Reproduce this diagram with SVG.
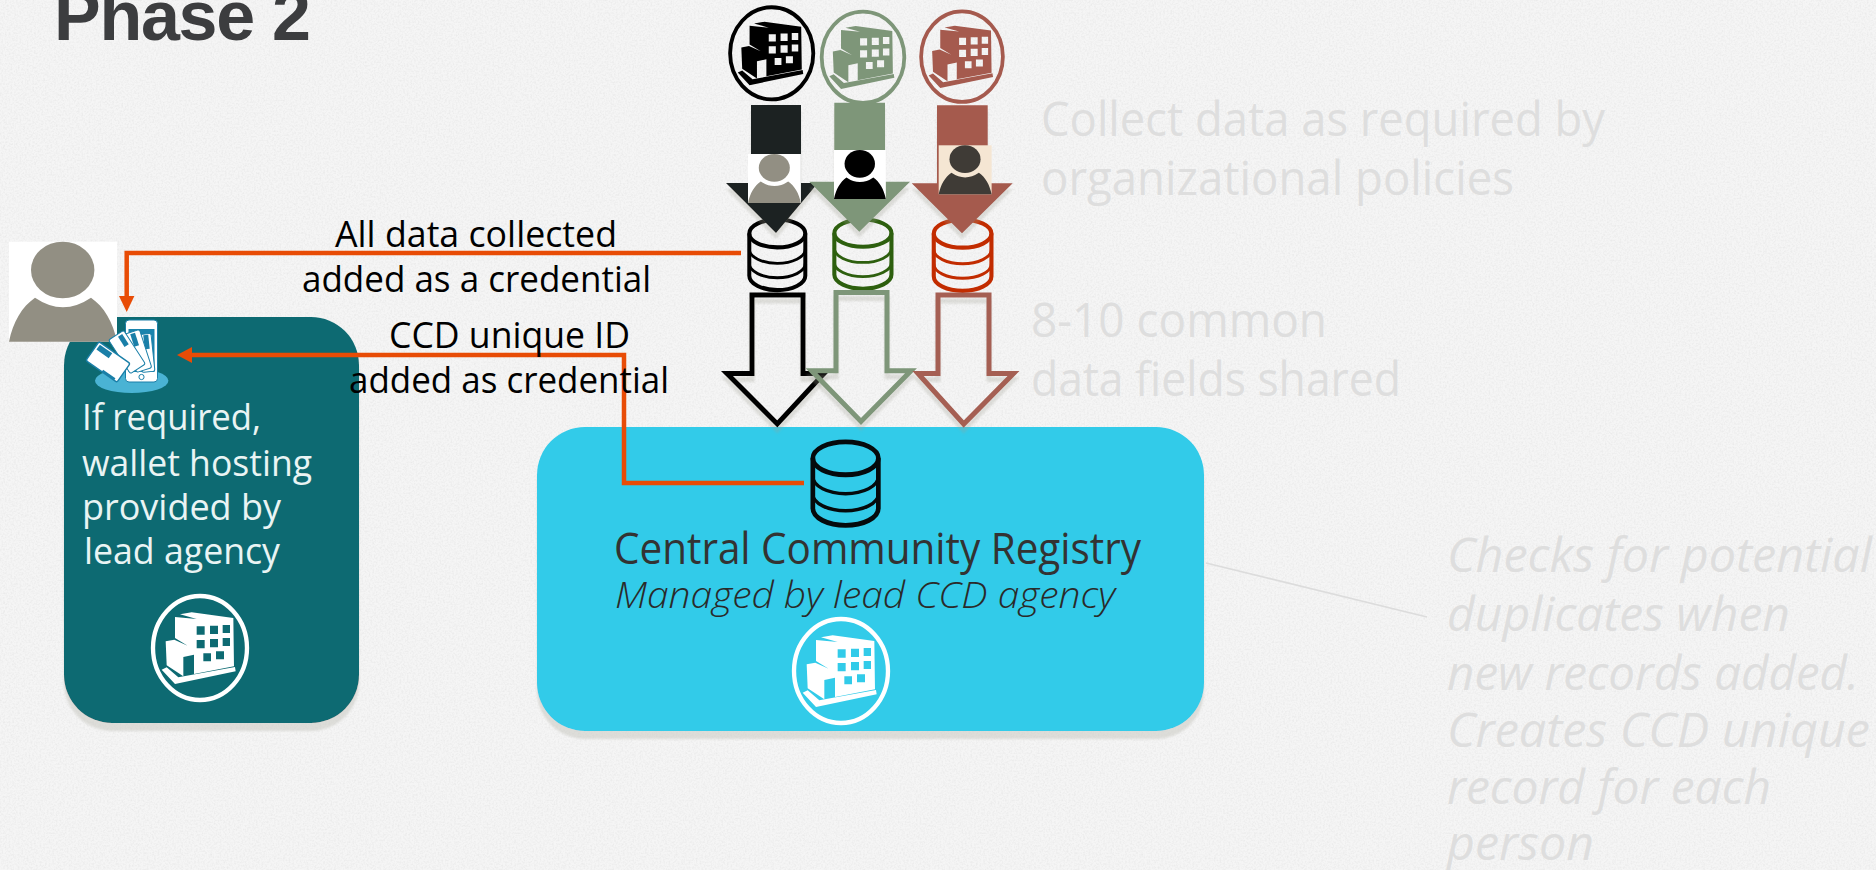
<svg xmlns="http://www.w3.org/2000/svg" xmlns:xlink="http://www.w3.org/1999/xlink" width="1876" height="870" viewBox="0 0 1876 870">
<style>
text{font-family:"Open Sans","Noto Sans","Liberation Sans",sans-serif;font-weight:400}
.title{font-family:"Liberation Sans",Arial,sans-serif;font-weight:700;font-size:70px;fill:#3c3d3f}
.faint{font-size:48px;fill:#dedede}
.faint-i{font-size:47px;fill:#dedede;font-style:italic}
.label{font-size:36px;fill:#000}
.wallet{font-size:37px;fill:#e9f4f4}
.reg{font-size:43px;fill:#333}
.reg-i{font-size:37px;fill:#2a2a2a;font-style:italic;font-weight:300}
.wire{fill:none;stroke:#e84c06;stroke-width:4.5}
.head{fill:#e84c06}
.hollow{fill:none;stroke-width:5;stroke-linejoin:miter;stroke-miterlimit:10}
</style>
<defs>
<filter id="noise" x="0" y="0" width="100%" height="100%">
<feTurbulence type="fractalNoise" baseFrequency="0.55" numOctaves="2" seed="4"/>
<feColorMatrix type="matrix" values="0 0 0 0 0.8 0 0 0 0 0.8 0 0 0 0 0.8 1.6 0 0 0 -0.62"/>
</filter>
<filter id="boxShadow" x="-5%" y="-5%" width="110%" height="115%">
<feDropShadow dx="0" dy="8" stdDeviation="1.2" flood-color="#c9c9c3" flood-opacity=".55"/>
</filter>
<filter id="arrowShadow" x="-15%" y="-10%" width="130%" height="125%">
<feDropShadow dx="0" dy="6" stdDeviation="1.2" flood-color="#9d9d92" flood-opacity=".28"/>
</filter>
<g id="building">
<ellipse cx="0" cy="0" rx="141" ry="156" fill="none" stroke="currentColor" stroke-width="13"/>
<path fill="currentColor" fill-rule="evenodd" d="M-75,-93L-10,-87L-60,-101L-25,-107L100,-90L102,55L-18,78L-18,20L-50,27L-50,85L-100,52L-103,-20L-77,-25L-37,-7L-75,-30ZM-10,-65h24v25h-24zM30,-67h24v25h-24zM68,-69h22v24h-22zM-10,-24h24v25h-24zM30,-27h24v25h-24zM68,-30h22v24h-22zM10,16h23v24h-23zM48,10h24v24h-24z"/>
<path fill="currentColor" d="M-115,65L-100,58L-65,88L105,57L107,70L-75,108Z"/>
</g>
<g id="person">
<rect x="0" y="0" width="108" height="100"/>
<ellipse cx="53.7" cy="28.3" rx="31.7" ry="28.3" fill="currentColor"/>
<path fill="currentColor" d="M0,100C4,80 13,65 26,56Q54,75 82,56C95,65 104,80 108,100Z"/>
</g>
<g id="db" fill="none" stroke="currentColor">
<ellipse cx="30" cy="15" rx="28" ry="13.5" stroke-width="4"/>
<path stroke-width="4" d="M2,15V56C2,64 15,70 30,70S58,64 58,56V15"/>
<path stroke-width="2.8" d="M2,30C2,38 15,44 30,44S58,38 58,30M2,44C2,52 15,58 30,58S58,52 58,44"/>
</g>
</defs>

<rect id="paper" width="1876" height="870" fill="#f5f5f5"/>
<rect width="1876" height="870" filter="url(#noise)"/>

<g id="title"><text class="title" x="54" y="40" textLength="257">Phase 2</text></g>

<g id="note-collect">
<text class="faint" x="1041" y="136" textLength="564" lengthAdjust="spacingAndGlyphs">Collect data as required by</text>
<text class="faint" x="1041" y="195" textLength="473" lengthAdjust="spacingAndGlyphs">organizational policies</text>
</g>
<g id="note-shared">
<text class="faint" x="1031" y="337" textLength="296" lengthAdjust="spacingAndGlyphs">8-10 common</text>
<text class="faint" x="1031" y="396" textLength="370" lengthAdjust="spacingAndGlyphs">data fields shared</text>
</g>
<g id="note-checks">
<text class="faint-i" x="1447" y="572" textLength="425" lengthAdjust="spacingAndGlyphs">Checks for potential</text>
<text class="faint-i" x="1447" y="631" textLength="343" lengthAdjust="spacingAndGlyphs">duplicates when</text>
<text class="faint-i" x="1447" y="690" textLength="412" lengthAdjust="spacingAndGlyphs">new records added.</text>
<text class="faint-i" x="1447" y="747" textLength="423" lengthAdjust="spacingAndGlyphs">Creates CCD unique</text>
<text class="faint-i" x="1447" y="804" textLength="324" lengthAdjust="spacingAndGlyphs">record for each</text>
<text class="faint-i" x="1447" y="860" textLength="147" lengthAdjust="spacingAndGlyphs">person</text>
</g>

<g id="node-wallet-host">
<rect x="64" y="317" width="295" height="406" rx="48" fill="#0f6b72" filter="url(#boxShadow)"/>
<use xlink:href="#building" href="#building" transform="translate(200 648) scale(.3333)" style="color:#fff"/>
<text class="wallet" x="82" y="430" textLength="179" lengthAdjust="spacingAndGlyphs">If required,</text>
<text class="wallet" x="82" y="476" textLength="230" lengthAdjust="spacingAndGlyphs">wallet hosting</text>
<text class="wallet" x="82" y="520" textLength="199" lengthAdjust="spacingAndGlyphs">provided by</text>
<text class="wallet" x="84" y="564" textLength="196" lengthAdjust="spacingAndGlyphs">lead agency</text>
</g>

<g id="node-registry">
<rect x="537" y="427" width="667" height="304" rx="48" fill="#31cbe9" filter="url(#boxShadow)"/>
<use xlink:href="#db" href="#db" transform="translate(810.5 440) scale(1.17 1.22)" style="color:#050a0c"/>
<text class="reg" x="614" y="564" textLength="527" lengthAdjust="spacingAndGlyphs">Central Community Registry</text>
<text class="reg-i" x="615" y="608" textLength="500" lengthAdjust="spacingAndGlyphs">Managed by lead CCD agency</text>
<use xlink:href="#building" href="#building" transform="translate(841 671) scale(.3333)" style="color:#fff"/>
</g>

<g id="node-person-wallet">
<use xlink:href="#person" href="#person" transform="translate(9 241.7)" style="color:#928f83;fill:#fff"/>
<g id="wallet-icon">
<ellipse cx="131.7" cy="380.7" rx="36.7" ry="12.3" fill="#4ab3d4"/>
<rect x="125.5" y="320" width="32" height="62" rx="3.5" fill="#fff" stroke="#1a7fa8" stroke-width="1"/>
<rect x="128.5" y="329" width="26" height="43" fill="#1a84ad"/>
<rect x="131" y="335" width="21" height="32" fill="#7fc0d8"/>
<circle cx="141.5" cy="377" r="2.6" fill="#fff" stroke="#1a7fa8"/>
<rect x="-6" y="-19" width="13" height="38" rx="2" transform="translate(146 353) rotate(-6)" fill="#fff" stroke="#1a7fa8"/>
<rect x="-2.5" y="-12" width="5" height="14" transform="translate(147 347) rotate(-6)" fill="#1a7fa8"/>
<rect x="-8" y="-20" width="16" height="40" rx="2" transform="translate(138 351) rotate(-18)" fill="#fff" stroke="#1a7fa8"/>
<rect x="-2.5" y="-11" width="5" height="13" transform="translate(136 344) rotate(-18)" fill="#1a7fa8"/>
<rect x="-9" y="-20" width="18" height="40" rx="2" transform="translate(127 352) rotate(-33)" fill="#fff" stroke="#1a7fa8"/>
<rect x="-2.5" y="-9" width="5" height="12" transform="translate(125 343) rotate(-33)" fill="#1a7fa8"/>
<rect x="-11.5" y="-19" width="23" height="38" rx="2" transform="translate(108 362) rotate(-55)" fill="#fff" stroke="#1a7fa8" stroke-width="1.4"/>
<rect x="-3" y="-12" width="6" height="15" transform="translate(108 354) rotate(-55)" fill="#1a7fa8"/>
<rect x="-1.2" y="3" width="2.4" height="15" transform="translate(100 369) rotate(-55)" fill="#1a7fa8"/>
</g>
</g>

<g id="node-source-black">
<use xlink:href="#building" href="#building" transform="translate(771.7 53.3) scale(.295)" style="color:#000"/>
<use xlink:href="#db" href="#db" transform="translate(747.3 218) scale(1 1.03)" style="color:#000"/>
<path d="M751,105H801V183H818L776,233L726,183H751Z" fill="#1f2321" filter="url(#arrowShadow)"/>
<use xlink:href="#person" href="#person" transform="translate(748 154) scale(.49)" style="color:#928f83;fill:#fff"/>
<path class="hollow" d="M752,295H803V373.5H824L777.3,424L727,373.5H752Z" stroke="#000" filter="url(#arrowShadow)"/>
</g>
<g id="node-source-green">
<use xlink:href="#building" href="#building" transform="translate(863 57.3) scale(.293)" style="color:#7e9679"/>
<use xlink:href="#db" href="#db" transform="translate(832.3 218) scale(1.02 1.01)" style="color:#2d5f0e"/>
<path d="M834.3,102.7H885V181.7H910L859.3,231.7L809.3,181.7H834.3Z" fill="#7e9679" filter="url(#arrowShadow)"/>
<use xlink:href="#person" href="#person" transform="translate(834 150) scale(.48 .49)" style="color:#000;fill:#fff"/>
<path class="hollow" d="M836,292.5H887V370.8H911L861,421.5L811.5,370.8H836Z" stroke="#7e9679" filter="url(#arrowShadow)"/>
</g>
<g id="node-source-red">
<use xlink:href="#building" href="#building" transform="translate(962 56.7) scale(.29)" style="color:#a55a4e"/>
<use xlink:href="#db" href="#db" transform="translate(931.7 218) scale(1.03 1.04)" style="color:#c22c00"/>
<path d="M937,105.3H987.7V183.3H1012.7L962,233.3L911.7,183.3H937Z" fill="#a55a4e" filter="url(#arrowShadow)"/>
<use xlink:href="#person" href="#person" transform="translate(938.7 145.3) scale(.49)" style="color:#3f3b36;fill:#f5e6d3"/>
<path class="hollow" d="M938,295H989V373.5H1013.5L963.7,424L918,373.5H938Z" stroke="#a55f52" filter="url(#arrowShadow)"/>
</g>

<g id="connectors">
<path class="wire" d="M741,253H126.7V297"/>
<polygon class="head" points="119,296 134.4,296 126.7,312"/>
<path class="wire" d="M804,483H624V355H190"/>
<polygon class="head" points="177,355 192,347 192,363"/>
<path d="M1206,563L1427,617" fill="none" stroke="#dcdcdc" stroke-width="1.6"/>
</g>

<g id="labels">
<text class="label" x="335" y="247" textLength="282" lengthAdjust="spacingAndGlyphs">All data collected</text>
<text class="label" x="302" y="292" textLength="349" lengthAdjust="spacingAndGlyphs">added as a credential</text>
<text class="label" x="389" y="348" textLength="241" lengthAdjust="spacingAndGlyphs">CCD unique ID</text>
<text class="label" x="349" y="393" textLength="320" lengthAdjust="spacingAndGlyphs">added as credential</text>
</g>
</svg>
